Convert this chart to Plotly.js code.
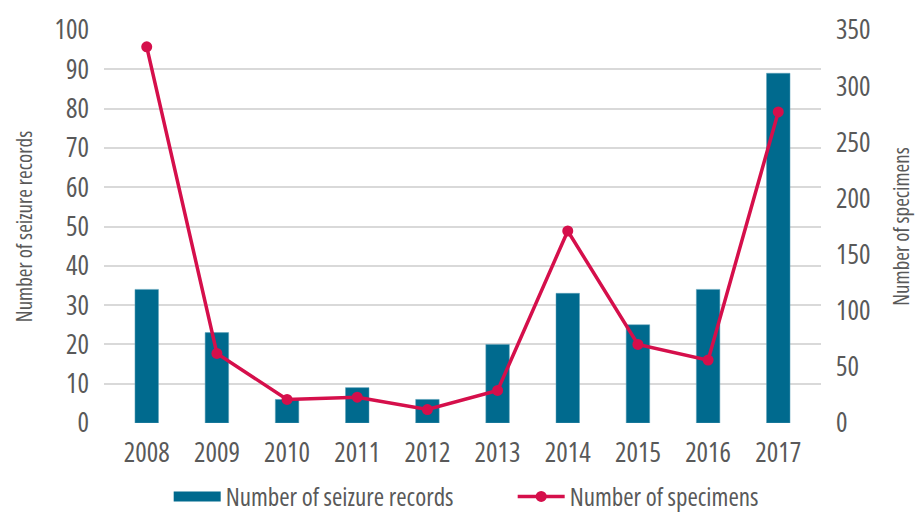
<!DOCTYPE html>
<html>
<head>
<meta charset="utf-8">
<script src="https://cdn.plot.ly/plotly-3.0.1.min.js"></script>
<style>
html,body{margin:0;padding:0;background:#fff;}
#chart{width:917px;height:512px;}
#chart text{font-stretch:condensed;}
</style>
</head>
<body>
<div id="chart"></div>
<script>
const years = ["2008","2009","2010","2011","2012","2013","2014","2015","2016","2017"];
const seizureRecords = [34, 23, 6, 9, 6, 20, 33, 25, 34, 89];
const specimens = [335, 62, 21, 23, 12, 29, 171, 70, 56, 277];
const seriesNames = ["Number of seizure records", "Number of specimens"];

const FONT = 'Open Sans, sans-serif';
const GREY = '#595959';
const BLUE = '#006a8e';
const RED = '#d50f4b';

const traces = [
  {
    type: 'bar', x: years, y: seizureRecords, name: seriesNames[0],
    marker: {color: BLUE, line: {color: '#5fa3bb', width: 0.5}},
    yaxis: 'y', showlegend: false
  },
  // legend key for the bars (wide swatch like the original)
  {
    type: 'scatter', mode: 'lines', x: [years[0]], y: [null], name: seriesNames[0],
    line: {color: BLUE, width: 12}, yaxis: 'y', showlegend: true
  },
  {
    type: 'scatter', mode: 'lines+markers', x: years, y: specimens, name: seriesNames[1],
    line: {color: RED, width: 3.5},
    marker: {color: RED, size: 11},
    yaxis: 'y2'
  }
];

const layout = {
  width: 917, height: 512,
  margin: {l: 104, r: 96, t: 30, b: 89},
  paper_bgcolor: '#fff', plot_bgcolor: '#fff',
  font: {family: FONT, color: GREY, size: 24, weight: 500},
  showlegend: true,
  bargap: 0.665,
  xaxis: {
    type: 'category', showgrid: false, zeroline: false,
    showline: false, ticks: '', ticklabelstandoff: 11,
    tickfont: {size: 27, color: GREY, weight: 500}
  },
  yaxis: {
    range: [0, 100], dtick: 10, showgrid: true, gridcolor: '#d9d9d9', gridwidth: 2,
    zeroline: false, showline: false, ticks: '', ticklabelstandoff: 14,
    tickfont: {size: 27, color: GREY, weight: 500},
    title: {text: seriesNames[0], font: {size: 21, color: GREY, weight: 500}, standoff: 4}
  },
  yaxis2: {
    range: [0, 350], dtick: 50, overlaying: 'y', side: 'right', showgrid: false,
    zeroline: false, showline: false, ticks: '', ticklabelstandoff: 14,
    tickfont: {size: 27, color: GREY, weight: 500},
    title: {text: seriesNames[1], font: {size: 21, color: GREY, weight: 500}, standoff: 12}
  },
  legend: {
    orientation: 'h', xref: 'paper', x: 0.57, xanchor: 'center',
    yref: 'container', y: 0.03, yanchor: 'middle',
    font: {size: 25, color: GREY, weight: 500}, itemwidth: 47, entrywidth: 282,
    traceorder: 'normal'
  }
};

Plotly.newPlot('chart', traces, layout, {displayModeBar: false, staticPlot: true});
</script>
</body>
</html>
